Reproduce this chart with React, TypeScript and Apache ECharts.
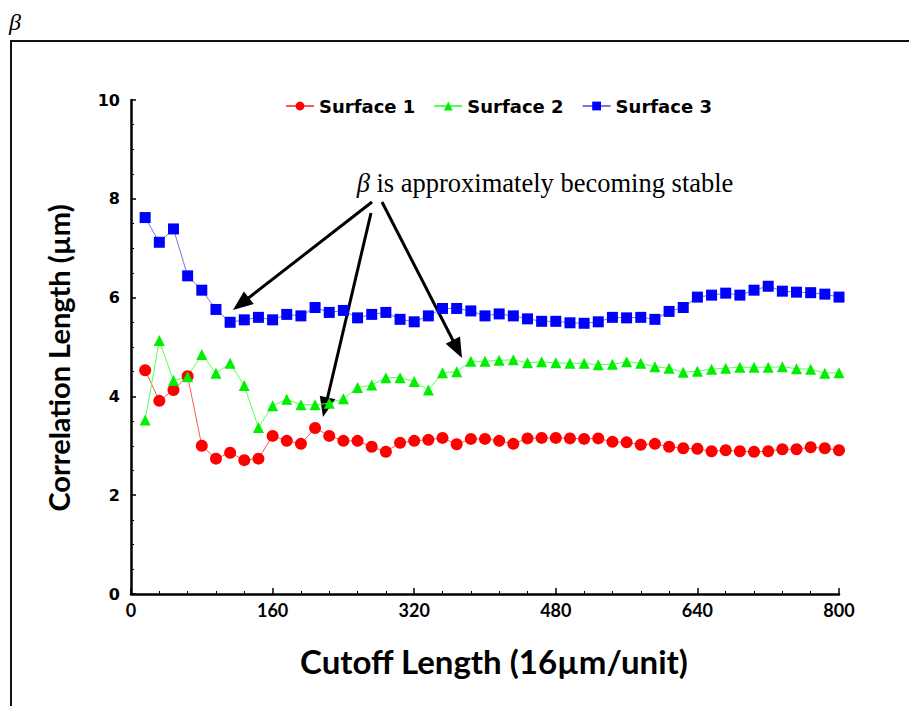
import React, { useEffect, useRef } from "react";
import * as echarts from "echarts";

const cutoffs: number[] = [
  16, 32, 48, 64, 80, 96, 112, 128, 144, 160, 176, 192, 208, 224, 240, 256, 272, 288, 304, 320,
  336, 352, 368, 384, 400, 416, 432, 448, 464, 480, 496, 512, 528, 544, 560, 576, 592, 608, 624, 640,
  656, 672, 688, 704, 720, 736, 752, 768, 784, 800,
];

const surface1: number[] = [
  4.53, 3.91, 4.13, 4.41, 3.0, 2.74, 2.86, 2.71, 2.74, 3.2, 3.1, 3.04, 3.36, 3.2, 3.1, 3.1, 2.98, 2.88, 3.06, 3.1,
  3.12, 3.16, 3.03, 3.14, 3.14, 3.1, 3.04, 3.15, 3.16, 3.16, 3.15, 3.14, 3.15, 3.08, 3.07, 3.02, 3.04, 2.98, 2.95, 2.94,
  2.89, 2.91, 2.89, 2.88, 2.89, 2.93, 2.93, 2.97, 2.95, 2.91,
];

const surface2: number[] = [
  3.52, 5.13, 4.32, 4.4, 4.85, 4.47, 4.67, 4.22, 3.37, 3.81, 3.94, 3.83, 3.83, 3.86, 3.95, 4.18, 4.23, 4.38, 4.38, 4.3,
  4.13, 4.48, 4.5, 4.71, 4.71, 4.73, 4.74, 4.68, 4.7, 4.68, 4.67, 4.67, 4.64, 4.65, 4.7, 4.67, 4.6, 4.57, 4.49, 4.51,
  4.55, 4.57, 4.59, 4.59, 4.59, 4.6, 4.56, 4.55, 4.47, 4.48,
];

const surface3: number[] = [
  7.62, 7.12, 7.39, 6.44, 6.15, 5.76, 5.5, 5.55, 5.6, 5.55, 5.66, 5.63, 5.8, 5.7, 5.74, 5.59, 5.66, 5.7, 5.56, 5.51,
  5.63, 5.78, 5.78, 5.73, 5.63, 5.67, 5.63, 5.57, 5.52, 5.52, 5.49, 5.48, 5.51, 5.6, 5.59, 5.6, 5.56, 5.72, 5.8, 6.01,
  6.05, 6.09, 6.05, 6.15, 6.23, 6.13, 6.11, 6.1, 6.07, 6.01,
];

const seriesNames: string[] = ["Surface 1", "Surface 2", "Surface 3"];
const xTicks = { min: 0, max: 800, interval: 160 };
const yTicks = { min: 0, max: 10, interval: 2 };
const annotationText = "{i|β} is approximately becoming stable";

const FONT = "Lato";
const WIDE = "DejaVu Sans";

function arrow(x1: number, y1: number, x2: number, y2: number) {
  const dx = x2 - x1;
  const dy = y2 - y1;
  const len = Math.sqrt(dx * dx + dy * dy);
  const ux = dx / len;
  const uy = dy / len;
  const headLen = 20;
  const headW = 8;
  const bx = x2 - ux * headLen;
  const by = y2 - uy * headLen;
  const px = -uy;
  const py = ux;
  return [
    {
      type: "line",
      shape: { x1, y1, x2: bx + ux * 2, y2: by + uy * 2 },
      style: { stroke: "#000", lineWidth: 3 },
    },
    {
      type: "polygon",
      shape: {
        points: [
          [x2, y2],
          [bx + px * headW, by + py * headW],
          [bx - px * headW, by - py * headW],
        ],
      },
      style: { fill: "#000" },
    },
  ];
}

export default function App() {
  const ref = useRef<HTMLDivElement>(null);

  useEffect(() => {
    if (!ref.current) return;
    const chart = echarts.init(ref.current, null, { renderer: "svg" });
    const mk = (vals: number[]) => cutoffs.map((c, i) => [c, vals[i]]);
    chart.setOption({
      animation: false,
      backgroundColor: "#fff",
      grid: { left: 131, right: 70, top: 100, bottom: 112, containLabel: false },
      legend: {
        data: seriesNames,
        left: 280,
        top: 92,
        itemWidth: 28,
        itemHeight: 11,
        itemGap: 18,
        textStyle: { fontFamily: WIDE, fontWeight: "bold", fontSize: 18, color: "#000" },
      },
      xAxis: {
        type: "value",
        min: xTicks.min,
        max: xTicks.max,
        interval: xTicks.interval,
        name: "Cutoff Length (16µm/unit)",
        nameLocation: "middle",
        nameGap: 50,
        nameTextStyle: {
          fontFamily: FONT,
          fontWeight: "bold",
          fontSize: 33,
          color: "#000",
          padding: [0, 0, 0, 18],
        },
        axisLine: { show: true, lineStyle: { color: "#000000", width: 2.5 } },
        axisTick: { show: true, inside: true, length: 6, lineStyle: { color: "#000", width: 1.5 } },
        minorTick: { show: true, splitNumber: 5, length: 3, lineStyle: { color: "#000", width: 1 } },
        splitLine: { show: false },
        axisLabel: { fontFamily: FONT, fontWeight: "bold", fontSize: 18, color: "#000", margin: 7 },
      },
      yAxis: {
        type: "value",
        min: yTicks.min,
        max: yTicks.max,
        interval: yTicks.interval,
        name: "Correlation Length (µm)",
        nameLocation: "middle",
        nameGap: 58,
        nameRotate: 90,
        nameTextStyle: {
          fontFamily: FONT,
          fontWeight: "bold",
          fontSize: 29,
          color: "#000",
          padding: [0, 22, 0, 0],
        },
        axisLine: { show: true, lineStyle: { color: "#000000", width: 2.5 } },
        axisTick: { show: true, inside: true, length: 5, lineStyle: { color: "#000", width: 1.5 } },
        minorTick: { show: true, splitNumber: 4, length: 3, lineStyle: { color: "#000", width: 1 } },
        splitLine: { show: false },
        axisLabel: { fontFamily: WIDE, fontWeight: "bold", fontSize: 16, color: "#000", margin: 11 },
      },
      series: [
        {
          name: seriesNames[0],
          type: "line",
          data: mk(surface1),
          symbol: "circle",
          symbolSize: 12,
          itemStyle: { color: "#ff0000" },
          lineStyle: { color: "#ff5555", width: 1 },
        },
        {
          name: seriesNames[1],
          type: "line",
          data: mk(surface2),
          symbol: "triangle",
          symbolSize: 11,
          itemStyle: { color: "#00ee00" },
          lineStyle: { color: "#55ff55", width: 1 },
        },
        {
          name: seriesNames[2],
          type: "line",
          data: mk(surface3),
          symbol: "rect",
          symbolSize: 11,
          itemStyle: { color: "#0000ff" },
          lineStyle: { color: "#7777dd", width: 1 },
        },
      ],
      graphic: [
        {
          type: "rect",
          shape: { x: 11, y: 41, width: 1000, height: 1000 },
          style: { fill: "none", stroke: "#111", lineWidth: 2 },
          silent: true,
        },
        {
          type: "text",
          x: 9,
          y: 10,
          style: {
            text: "β",
            fontFamily: "Liberation Serif",
            fontStyle: "italic",
            fontSize: 24,
            fill: "#000",
          },
        },
        {
          type: "text",
          x: 545,
          y: 183,
          style: {
            text: annotationText,
            fontFamily: "Liberation Serif",
            fontSize: 26.5,
            fill: "#000",
            align: "center",
            verticalAlign: "middle",
            rich: {
              i: { fontFamily: "Liberation Serif", fontStyle: "italic", fontSize: 26.5, fill: "#000" },
            },
          },
        },
        ...arrow(372, 202, 233, 310),
        ...arrow(371, 213, 323, 417),
        ...arrow(382, 202, 462, 358),
      ],
    });
    return () => chart.dispose();
  }, []);

  return (
    <div
      ref={ref}
      style={{ position: "fixed", left: 0, top: 0, width: 909, height: 706, background: "#fff" }}
    />
  );
}
